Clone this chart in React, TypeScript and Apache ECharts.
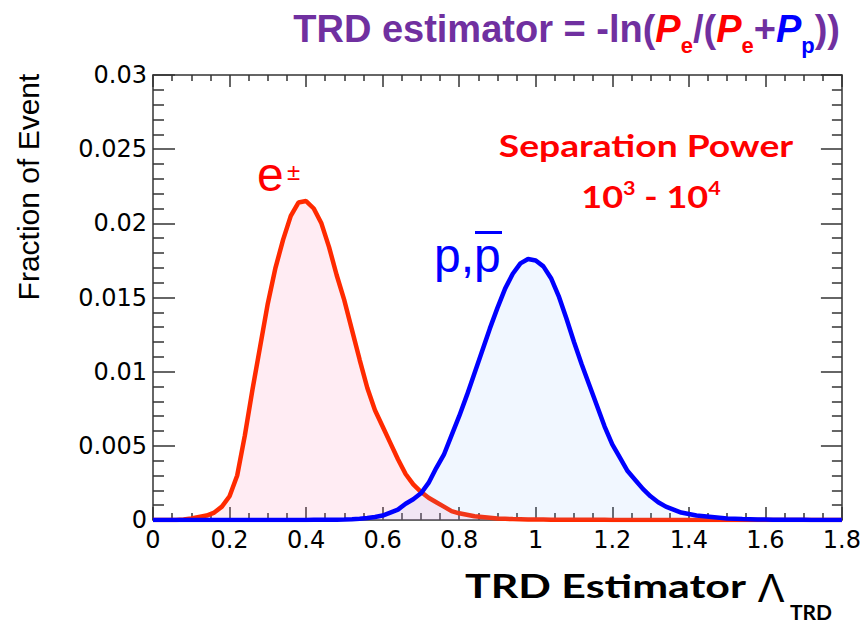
import React, { useEffect, useRef } from "react";
import * as echarts from "echarts";

// Bin centres of the TRD estimator histogram (x axis)
const binCenters = [
  0, 0.02, 0.04, 0.06, 0.08, 0.1, 0.12, 0.14, 0.16, 0.18,
  0.2, 0.22, 0.24, 0.26, 0.28, 0.3, 0.32, 0.34, 0.36, 0.38,
  0.4, 0.42, 0.44, 0.46, 0.48, 0.5, 0.52, 0.54, 0.56, 0.58,
  0.6, 0.62, 0.64, 0.66, 0.68, 0.7, 0.72, 0.74, 0.76, 0.78,
  0.8, 0.82, 0.84, 0.86, 0.88, 0.9, 0.92, 0.94, 0.96, 0.98,
  1.0, 1.02, 1.04, 1.06, 1.08, 1.1, 1.12, 1.14, 1.16, 1.18,
  1.2, 1.22, 1.24, 1.26, 1.28, 1.3, 1.32, 1.34, 1.36, 1.38,
  1.4, 1.42, 1.44, 1.46, 1.48, 1.5, 1.52, 1.54, 1.56, 1.58,
  1.6, 1.62, 1.64, 1.66, 1.68, 1.7, 1.72, 1.74, 1.76, 1.78,
  1.8,
];

// e± fraction of events per bin
const electronFraction = [
  0, 0, 0, 0, 0.00003, 0.0001, 0.0002, 0.0003, 0.0005, 0.0009,
  0.0016, 0.003, 0.0057, 0.0088, 0.0117, 0.0146, 0.017, 0.0189, 0.0205, 0.0214,
  0.0215, 0.021, 0.02, 0.0184, 0.0165, 0.0148, 0.0128, 0.0108, 0.0089, 0.0074,
  0.0063, 0.0052, 0.0041, 0.0031, 0.0024, 0.0019, 0.0015, 0.0012, 0.0009, 0.0006,
  0.00045, 0.00035, 0.00025, 0.0002, 0.00015, 0.0001, 0.00008, 0.00006, 0.00005, 0.00004,
  0.00003, 0.00003, 0.00002, 0.00002, 0.00002, 0.00001, 0.00001, 0.00001, 0.00001, 0.00001,
  0, 0, 0, 0, 0, 0, 0, 0, 0, 0,
  0, 0, 0, 0, 0, 0, 0, 0, 0, 0,
  0, 0, 0, 0, 0, 0, 0, 0, 0, 0,
  0,
];

// p, p̄ fraction of events per bin
const protonFraction = [
  0, 0, 0, 0, 0, 0, 0, 0, 0, 0,
  0, 0, 0, 0, 0, 0, 0, 0, 0, 0,
  0, 0.00001, 0.00001, 0.00002, 0.00002, 0.00003, 0.00005, 0.00008, 0.00013, 0.0002,
  0.0003, 0.0005, 0.0007, 0.0011, 0.0014, 0.0018, 0.0025, 0.0035, 0.0044, 0.0057,
  0.007, 0.0084, 0.0099, 0.0114, 0.0129, 0.0143, 0.0156, 0.0166, 0.0173, 0.0176,
  0.0175, 0.0171, 0.0163, 0.0151, 0.0136, 0.012, 0.0105, 0.0091, 0.0077, 0.0063,
  0.0051, 0.0042, 0.0033, 0.0027, 0.0021, 0.0016, 0.0012, 0.0009, 0.0007, 0.0005,
  0.0004, 0.0003, 0.00025, 0.0002, 0.00015, 0.0001, 0.00008, 0.00006, 0.00005, 0.00004,
  0.00003, 0.00002, 0.00002, 0.00001, 0.00001, 0.00001, 0, 0, 0, 0,
  0,
];

const xMin = 0;
const xMax = 1.8;
const xStep = 0.2;
const yMin = 0;
const yMax = 0.03;
const yStep = 0.005;

export default function App() {
  const ref = useRef<HTMLDivElement>(null);

  useEffect(() => {
    const chart = echarts.init(ref.current!, null, { renderer: "svg" });
    const eData = binCenters.map((x, i) => [x, electronFraction[i]]);
    const pData = binCenters.map((x, i) => [x, protonFraction[i]]);

    const axisColor = "#333333";
    const labelFont = { fontFamily: "DejaVu Sans", fontSize: 24, color: "#000" };

    const baseX = {
      type: "value" as const,
      min: xMin,
      max: xMax,
      interval: xStep,
      splitLine: { show: false },
      axisLine: { show: true, onZero: false, lineStyle: { color: axisColor, width: 1.5 } },
    };
    const baseY = {
      type: "value" as const,
      min: yMin,
      max: yMax,
      interval: yStep,
      splitLine: { show: false },
      axisLine: { show: true, onZero: false, lineStyle: { color: axisColor, width: 1.5 } },
    };

    const option: any = {
      animation: false,
      backgroundColor: "#ffffff",
      grid: { left: 153, right: 19, top: 75, bottom: 103 },
      xAxis: [
        {
          ...baseX,
          position: "bottom",
          axisTick: { show: true, inside: true, length: 13, lineStyle: { color: axisColor, width: 1.5 } },
          minorTick: { show: true, splitNumber: 4, length: 7, lineStyle: { color: axisColor, width: 1.5 } },
          axisLabel: { ...labelFont, margin: 8 },
        },
        {
          ...baseX,
          position: "top",
          axisTick: { show: true, inside: true, length: 12, lineStyle: { color: axisColor, width: 1.5 } },
          minorTick: { show: true, splitNumber: 4, length: 6, lineStyle: { color: axisColor, width: 1.5 } },
          axisLabel: { show: false },
        },
      ],
      yAxis: [
        {
          ...baseY,
          position: "left",
          axisTick: { show: true, inside: true, length: 22, lineStyle: { color: axisColor, width: 1.5 } },
          minorTick: { show: true, splitNumber: 5, length: 11, lineStyle: { color: axisColor, width: 1.5 } },
          axisLabel: { ...labelFont, margin: 6 },
        },
        {
          ...baseY,
          position: "right",
          axisTick: { show: true, inside: true, length: 21, lineStyle: { color: axisColor, width: 1.5 } },
          minorTick: { show: true, splitNumber: 5, length: 10, lineStyle: { color: axisColor, width: 1.5 } },
          axisLabel: { show: false },
        },
      ],
      series: [
        {
          name: "e±",
          type: "line",
          xAxisIndex: 0,
          yAxisIndex: 0,
          data: eData,
          showSymbol: false,
          symbol: "none",
          lineStyle: { color: "#ff2a00", width: 4.5 },
          areaStyle: { color: "rgba(255,120,170,0.2)", origin: "start" },
          z: 2,
        },
        {
          name: "p,p̄",
          type: "line",
          xAxisIndex: 0,
          yAxisIndex: 0,
          data: pData,
          showSymbol: false,
          symbol: "none",
          lineStyle: { color: "#0000ff", width: 4.5 },
          areaStyle: { color: "rgba(110,170,255,0.14)", origin: "start" },
          z: 3,
        },
      ],
      graphic: [
        {
          type: "text",
          x: 840,
          y: 2,
          style: {
            text: "{m|TRD estimator = -ln(}{rp|P}{rs|e}{m|/(}{rp|P}{rs|e}{m|+}{bp|P}{bs|p}{m|))}",
            align: "right",
            verticalAlign: "top",
            rich: {
              m: { fill: "#7030a0", fontSize: 38, fontWeight: "bold", fontFamily: "Liberation Sans", lineHeight: 54 },
              rp: { fill: "#ff0000", fontSize: 38, fontWeight: "bold", fontStyle: "italic", fontFamily: "Liberation Sans", lineHeight: 54 },
              rs: { fill: "#ff0000", fontSize: 22, fontWeight: "bold", fontFamily: "Liberation Sans", lineHeight: 20, verticalAlign: "bottom" },
              bp: { fill: "#0000ff", fontSize: 38, fontWeight: "bold", fontStyle: "italic", fontFamily: "Liberation Sans", lineHeight: 54 },
              bs: { fill: "#0000ff", fontSize: 22, fontWeight: "bold", fontFamily: "Liberation Sans", lineHeight: 20, verticalAlign: "bottom" },
            },
          },
        },
        {
          type: "text",
          x: 28,
          y: 187,
          rotation: Math.PI / 2,
          style: {
            text: "Fraction of Event",
            fill: "#000",
            fontSize: 30,
            fontFamily: "Liberation Sans",
            align: "center",
            verticalAlign: "middle",
          },
        },
        {
          type: "text",
          x: 646,
          y: 145,
          scaleX: 1.2,
          style: {
            text: "Separation Power",
            fill: "#ff0000",
            fontSize: 31,
            fontWeight: "bold",
            fontFamily: "Lato",
            align: "center",
            verticalAlign: "middle",
          },
        },
        {
          type: "text",
          x: 651,
          y: 196,
          scaleX: 1.2,
          style: {
            text: "{n|10}{s|3}{n| - 10}{s|4}",
            align: "center",
            verticalAlign: "middle",
            rich: {
              n: { fill: "#ff0000", fontSize: 30, fontWeight: "bold", fontFamily: "Lato", lineHeight: 34 },
              s: { fill: "#ff0000", fontSize: 18, fontWeight: "bold", fontFamily: "Lato", lineHeight: 26, verticalAlign: "top" },
            },
          },
        },
        {
          type: "text",
          x: 257,
          y: 174,
          style: {
            text: "e",
            fill: "#ff0000",
            fontSize: 48,
            fontFamily: "Liberation Sans",
            align: "left",
            verticalAlign: "middle",
          },
        },
        {
          type: "text",
          x: 287,
          y: 171,
          style: {
            text: "±",
            fill: "#ff0000",
            fontSize: 24,
            fontFamily: "Liberation Sans",
            align: "left",
            verticalAlign: "middle",
          },
        },
        {
          type: "text",
          x: 434,
          y: 255,
          style: {
            text: "p,p",
            fill: "#0000ff",
            fontSize: 48,
            fontFamily: "Liberation Sans",
            align: "left",
            verticalAlign: "middle",
          },
        },
        {
          type: "rect",
          shape: { x: 475, y: 231, width: 27, height: 3 },
          style: { fill: "#0000ff" },
        },
        {
          type: "text",
          x: 465,
          y: 585,
          scaleX: 1.3,
          style: {
            text: "TRD Estimator",
            fill: "#000",
            fontSize: 33,
            fontWeight: "bold",
            fontFamily: "Lato",
            align: "left",
            verticalAlign: "middle",
          },
        },
        {
          type: "text",
          x: 771,
          y: 588,
          style: {
            text: "Λ",
            fill: "#000",
            fontSize: 40,
            fontFamily: "Liberation Sans",
            align: "center",
            verticalAlign: "middle",
          },
        },
        {
          type: "text",
          x: 790,
          y: 611,
          style: {
            text: "TRD",
            fill: "#000",
            fontSize: 21,
            fontWeight: "bold",
            fontFamily: "Lato",
            align: "left",
            verticalAlign: "middle",
          },
        },
      ],
    };

    chart.setOption(option);
    return () => chart.dispose();
  }, []);

  return (
    <div
      ref={ref}
      style={{ position: "fixed", left: 0, top: 0, width: 864, height: 623, background: "#fff" }}
    />
  );
}
